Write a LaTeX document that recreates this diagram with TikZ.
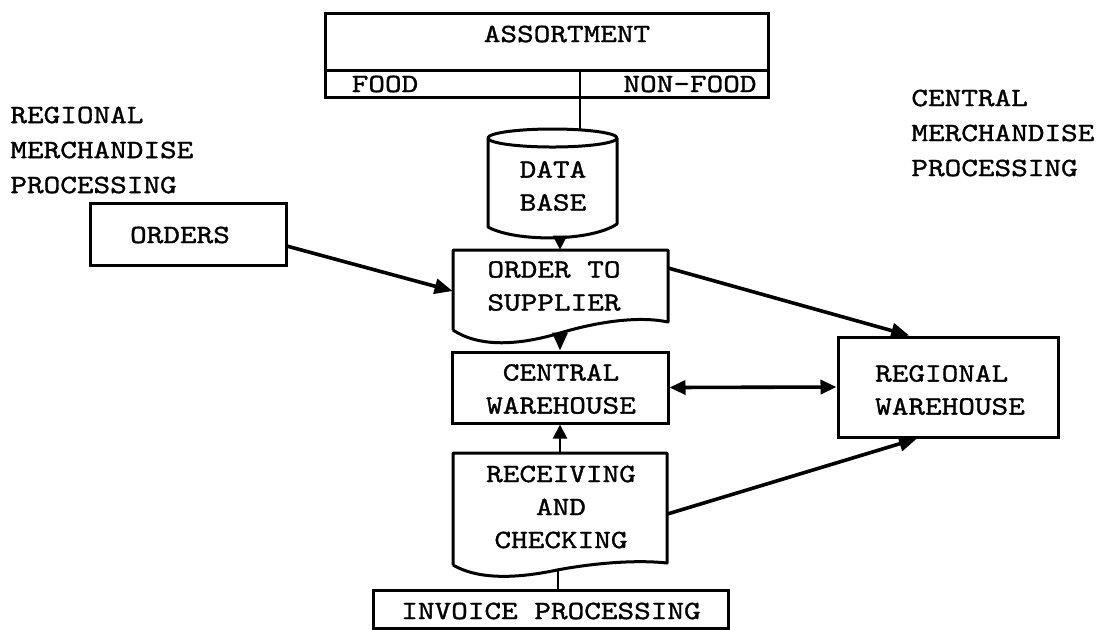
\documentclass[tikz,border=0pt]{standalone}
\usepackage{fontspec}
\setmainfont{lmmono10-regular.otf}[FakeStretch=1.2,FakeBold=1.2]
\usetikzlibrary{arrows.meta,fit}
\begin{document}
\begin{tikzpicture}[x=0.5pt,y=-0.5pt,
  box/.style={draw, line width=1.5pt, inner sep=0pt},
  region/.style={inner sep=0pt},
  txt/.style={inner sep=0pt, align=center},
  lbl/.style={inner sep=0pt, align=left, anchor=west, font=\fontsize{13.2}{17.5}\selectfont},
  outline/.style={line width=1.5pt, line join=round},
  arr/.style={line width=1.8pt, -{Triangle[length=9pt,width=7.5pt]}},
  dbl/.style={line width=1.8pt, {Triangle[length=8pt,width=7pt]}-{Triangle[length=8pt,width=7pt]}},
  thinarr/.style={line width=1pt, -{Triangle[length=7pt,width=7pt]}},
  link/.style={line width=1.3pt},
  font=\fontsize{13.2}{16.5}\selectfont]
\useasboundingbox (0,0) rectangle (1098,629);

% Assortment
\node[box, fit={(325,13) (768,97)}] (assort) {};
\draw[outline] (assort.west |- 0,70) -- (assort.east |- 0,70);
\coordinate (dv) at (580,70);
\coordinate (dbt) at (580,130);
\node[txt] (tassort) at (567,34) {ASSORTMENT};
\node[txt] (tfood) at (385,84) {FOOD};
\node[txt] (tnonfood) at (690,84) {NON-FOOD};

% Data base cylinder
\draw[outline] (488,138) -- (488,227) .. controls (515,242) and (590,242) .. (617,224) -- (617,138);
\draw[outline] (552.5,138) ellipse [x radius=64.5, y radius=9];
\node[region, fit={(488,129) (617,236)}] (db) {};
\node[txt] (tdb) at (553,186) {DATA\\BASE};
\draw[link] (dv) -- (dbt);

% Order to supplier (document shape)
\draw[outline] (453,330) -- (453,250) -- (668,250) -- (668,322) .. controls (640,316) and (600,321) .. (560,333) .. controls (520,345) and (480,348) .. (453,330);
\node[region, fit={(453,250) (668,332)}] (ots) {};
\node[txt] (tots) at (554,286) {ORDER TO\\SUPPLIER};

% Central warehouse
\node[box, fit={(452,352) (668,423)}] (cw) {};
\node[txt] (tcw) at (561,389) {CENTRAL\\WAREHOUSE};

% Receiving and checking (document shape)
\draw[outline] (453,565) -- (453,453) -- (667,453) -- (667,563) .. controls (640,560) and (600,562) .. (557,570) .. controls (510,580) and (475,578) .. (453,565);
\node[region, fit={(453,453) (667,575)}] (rec) {};
\node[txt] (trec) at (561,507) {RECEIVING\\AND\\CHECKING};

% Invoice processing
\node[box, fit={(373,590) (728,628)}] (inv) {};
\node[txt] (tinv) at (551,611) {INVOICE PROCESSING};

% Orders
\node[box, fit={(90,203) (286,265)}] (orders) {};
\node[txt] (tord) at (180,235) {ORDERS};

% Regional warehouse
\node[box, fit={(838,337) (1058,437)}] (reg) {};
\node[txt, align=left] (treg) at (950,390) {REGIONAL\\WAREHOUSE};

% Side labels
\node[lbl] (rlab) at (10,150) {REGIONAL\\MERCHANDISE\\PROCESSING};
\node[lbl] (clab) at (911,133) {CENTRAL\\MERCHANDISE\\PROCESSING};

% Connectors
\coordinate (dbb) at (560,236);
\coordinate (otsb) at (560,333);
\coordinate (recb) at (558,571);
\draw[thinarr] (dbb) -- (dbb |- ots.north);
\draw[arr] (orders.-7.5) -- (ots.west);
\draw[arr] (ots.12) -- (reg.127);
\draw[arr] (otsb) -- (otsb |- cw.north);
\draw[dbl] (cw.east) -- (reg.west);
\draw[thinarr] (rec.north) -- (cw.south);
\draw[arr] (rec.east) -- (reg.239);
\draw[link] (recb) -- (recb |- inv.north);
\end{tikzpicture}
\end{document}
